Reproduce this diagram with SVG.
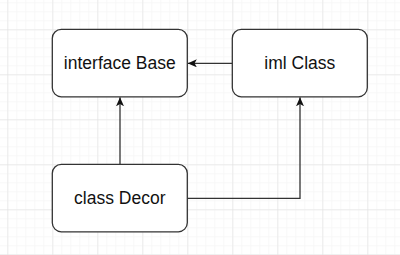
<svg xmlns="http://www.w3.org/2000/svg" width="400" height="255" viewBox="0 0 400 255">
  <defs>
    <pattern id="minor" x="7.3" y="2.3" width="9" height="9" patternUnits="userSpaceOnUse">
      <path d="M0,0 H9 M0,0 V9" fill="none" stroke="#f2f2f2" stroke-width="1"/>
    </pattern>
    <pattern id="major" x="7.3" y="29.3" width="45" height="45" patternUnits="userSpaceOnUse">
      <path d="M0,0 H45 M0,0 V45" fill="none" stroke="#dedede" stroke-width="1"/>
    </pattern>
    <marker id="arrow" viewBox="0 0 9 8" refX="9" refY="4" markerWidth="9" markerHeight="8" markerUnits="userSpaceOnUse" orient="auto">
      <path d="M0,0 L9,4 L0,8 L2.2,4 Z" fill="#111"/>
    </marker>
    <style>
      .box { fill: #ffffff; stroke: #333333; stroke-width: 1.3; }
      .label { font-family: "Liberation Sans", Arial, sans-serif; font-size: 17.5px; fill: #111111; text-anchor: middle; }
      .edge { fill: none; stroke: #333333; stroke-width: 1.3; }
    </style>
  </defs>

  <!-- background grid -->
  <rect width="400" height="255" fill="#ffffff"/>
  <rect width="400" height="255" fill="url(#minor)"/>
  <rect width="400" height="255" fill="url(#major)"/>

  <!-- connectors -->
  <g id="connectors">
    <path class="edge" d="M232.3,63.3 H187.8" marker-end="url(#arrow)"/>
    <path class="edge" d="M120,164.3 V97.3" marker-end="url(#arrow)"/>
    <path class="edge" d="M187.3,198.3 H300 V97.3" marker-end="url(#arrow)"/>
  </g>

  <g id="interface-base">
    <rect class="box" x="52.3" y="29.3" width="135" height="67.5" rx="9"/>
    <text class="label" x="119.8" y="69.3">interface Base</text>
  </g>

  <g id="iml-class">
    <rect class="box" x="232.3" y="29.3" width="135" height="67.5" rx="9"/>
    <text class="label" x="299.8" y="69.3">iml Class</text>
  </g>

  <g id="class-decor">
    <rect class="box" x="52.3" y="164.3" width="135" height="67.5" rx="9"/>
    <text class="label" x="119.8" y="204.3">class Decor</text>
  </g>
</svg>
